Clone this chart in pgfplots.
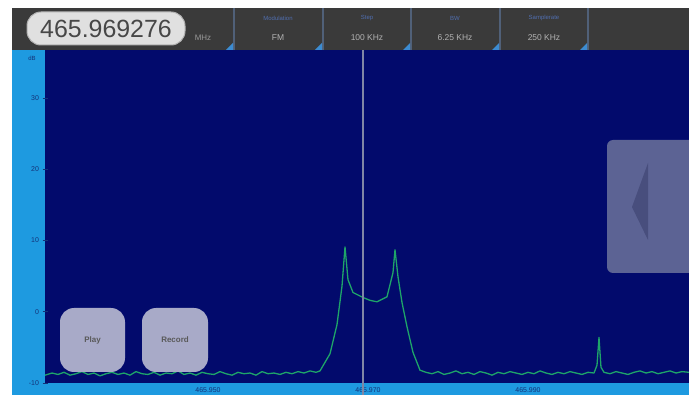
\documentclass[border=0pt]{standalone}
\usepackage{pgfplots}
\pgfplotsset{compat=1.18}
\usepackage{fontspec}
\setmainfont{Liberation Sans}
\definecolor{navy}{RGB}{2,10,108}
\definecolor{strip}{RGB}{30,154,224}
\definecolor{topbar}{RGB}{58,58,58}
\definecolor{trace}{RGB}{30,165,105}
\definecolor{tickc}{RGB}{20,50,120}
\definecolor{btn}{RGB}{168,170,200}
\definecolor{panel}{RGB}{92,99,148}
\definecolor{cline}{RGB}{128,134,165}
\begin{document}
\begin{tikzpicture}
\useasboundingbox (0,0) rectangle (689bp,395bp);
\begin{scope}[x=1bp,y=1bp]
\fill[white] (0,0) rectangle (689,395);
\fill[topbar] (12,345) rectangle (689,387);
\fill[strip] (12,0) rectangle (45,345);
\fill[strip] (12,0) rectangle (689,12);
\end{scope}
\begin{axis}[
  at={(45bp,12bp)}, anchor=south west,
  scale only axis, width=644bp, height=333bp,
  xmin=-40.375, xmax=40.125, ymin=-10, ymax=36.74,
  axis background/.style={fill=navy},
  axis line style={draw=none},
  xtick={-20,0,20},
  xticklabels={465.950,465.970,465.990},
  ytick={-10,0,10,20,30},
  tick align=center,
  major tick length=5bp,
  tick style={color=tickc, line width=0.8pt},
  xtick style={draw=none},
  xticklabel style={font=\fontsize{7}{8}\selectfont, color=tickc, yshift=1.5bp},
  yticklabel style={font=\fontsize{7}{8}\selectfont, color=tickc},
  /pgf/number format/assume math mode=true,
  xtick pos=bottom, ytick pos=left,
  clip=true,
]
\addplot[trace, line width=1.3pt, line join=round] coordinates {
(-40.375,-8.9) (-39.5,-8.6) (-38.75,-8.8) (-38,-8.5) (-37.25,-8.9) (-36.5,-8.7) (-35.75,-8.4) (-35,-8.8) (-34.25,-8.6) (-33.5,-9.0) (-32.75,-8.7) (-32,-8.5) (-31.25,-8.8) (-30.5,-8.6) (-29.75,-8.9) (-29,-8.4) (-28.25,-8.7) (-27.5,-8.8) (-26.75,-8.5) (-26,-8.9) (-25.25,-8.6) (-24.5,-8.7) (-23.75,-8.3) (-23,-8.8) (-22.25,-8.6) (-21.5,-8.9) (-20.75,-8.5) (-20,-8.7) (-19.25,-8.8) (-18.5,-8.4) (-17.75,-8.7) (-17,-8.9) (-16.25,-8.5) (-15.5,-8.7) (-14.75,-8.6) (-14,-8.9) (-13.25,-8.4) (-12.5,-8.7) (-11.75,-8.6) (-11,-8.8) (-10.25,-8.5) (-9.5,-8.7) (-8.75,-8.4) (-8,-8.6) (-7.25,-8.3) (-6.5,-8.5) (-6,-8.3)
(-4.75,-5.9) (-3.875,-1.8) (-3.25,3.6) (-2.875,9.1) (-2.5,4.5) (-1.875,2.7) (-0.625,2.0) (0.25,1.6) (1.125,1.4) (2.375,2.1) (3.125,5.5) (3.375,8.7) (3.75,4.9) (4.25,1.3) (4.875,-2.1) (5.625,-5.7) (6.5,-8.2)
(7.25,-8.5) (8,-8.7) (8.75,-8.4) (9.5,-8.8) (10.25,-8.6) (11,-8.3) (11.75,-8.7) (12.5,-8.5) (13.25,-8.8) (14,-8.4) (14.75,-8.6) (15.5,-8.9) (16.25,-8.5) (17,-8.7) (17.75,-8.4) (18.5,-8.6) (19.25,-8.8) (20,-8.5) (20.75,-8.7) (21.5,-8.3) (22.25,-8.6) (23,-8.8) (23.75,-8.5) (24.5,-8.7) (25.25,-8.4) (26,-8.6) (26.75,-8.8) (27.5,-8.5) (28.25,-8.6) (28.625,-7.5) (28.875,-3.6) (29.125,-7.8) (29.5,-8.5) (30.25,-8.7) (31,-8.4) (31.75,-8.6) (32.5,-8.8) (33.25,-8.5) (34,-8.3) (34.75,-8.6) (35.5,-8.4) (36.25,-8.7) (37,-8.5) (37.75,-8.3) (38.5,-8.6) (39.25,-8.4) (40.125,-8.5)
};
\end{axis}
\begin{scope}[x=1bp,y=1bp]
% centre line
\draw[cline, line width=1.5bp] (363,0) -- (363,345);
% dB label
\node[font=\fontsize{6}{7}\selectfont, color=tickc] at (32,337) {dB};
% frequency box
\draw[fill=black!12, draw=black!30, rounded corners=14bp, line width=1bp] (27,350) rectangle (185,383);
\node[font=\fontsize{25}{26}\selectfont, color=black!72] at (106,366.5) {465.969276};
\node[font=\fontsize{8}{9}\selectfont, color=black!40] at (203,357) {MHz};
% separators and buttons
\foreach \sx in {234,323,411,500,588} {
  \draw[color={rgb,255:red,80;green,96;blue,120}, line width=1.5bp] (\sx,345) -- (\sx,387);
  \fill[color={rgb,255:red,60;green,140;blue,210}] (\sx-1-7,345) -- (\sx-1,345) -- (\sx-1,352) -- cycle;
}
\foreach \cx/\lab/\val in {278/Modulation/FM, 367/Step/100 KHz, 455/BW/6.25 KHz, 544/Samplerate/250 KHz} {
  \node[font=\fontsize{6}{7}\selectfont, color={rgb,255:red,80;green,110;blue,175}] at (\cx,377) {\lab};
  \node[font=\fontsize{8.5}{9}\selectfont, color=black!30] at (\cx,357) {\val};
}
% Play / Record buttons
\fill[btn, rounded corners=14bp] (60,23) rectangle (125,87);
\fill[btn, rounded corners=14bp] (142,23) rectangle (208,87);
\node[font=\fontsize{8}{9}\selectfont\bfseries, color=black!65] at (92.5,55) {Play};
\node[font=\fontsize{8}{9}\selectfont\bfseries, color=black!65] at (175,55) {Record};
% right panel
\fill[panel, rounded corners=6bp] (607,122) rectangle (700,255);
\fill[color={rgb,255:red,72;green,78;blue,125}] (632,188) -- (648,232) -- (648,155) -- cycle;
\end{scope}
\end{tikzpicture}
\end{document}
